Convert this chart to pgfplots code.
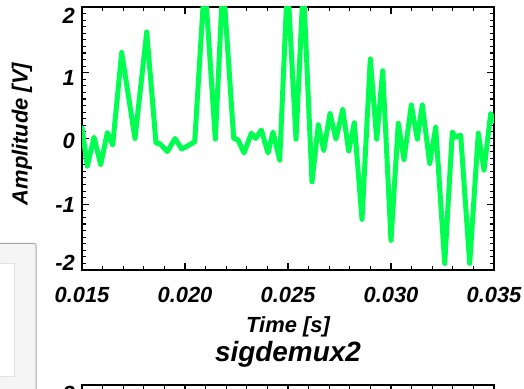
\documentclass[border=0pt]{standalone}
\usepackage{fontspec}
\setmainfont{Liberation Sans}
\usepackage{pgfplots}
\pgfplotsset{compat=1.18}
\definecolor{sig}{RGB}{0,255,80}
\newcommand{\yl}[2]{\raisebox{#1}[\height][\depth]{#2}}
\pgfplotsset{idlaxis/.style={
  scale only axis, width=412bp, height=263bp,
  xmin=0.015, xmax=0.035, ymin=-2, ymax=2,
  xtick={0.015,0.020,0.025,0.030,0.035},
  ytick={-2,-1,0,1,2},
  minor x tick num=4, minor y tick num=9,
  tick align=inside, tick pos=both,
  major tick length=7bp, minor tick length=4bp,
  axis line style={line width=1.6bp},
  tick style={black, line width=1.1bp},
  ticklabel style={font=\fontsize{22}{26}\selectfont\bfseries\itshape, inner sep=0pt},
  xticklabel style={yshift=-17bp},
  yticklabel style={xshift=-7bp},
  yticklabels={\yl{7.5bp}{-2},\yl{-1bp}{-1},\yl{-2.5bp}{0},\yl{-5.5bp}{1},\yl{-9bp}{2}},
  /pgf/number format/assume math mode=true,
  scaled x ticks=false,
}}
\begin{document}
\begin{tikzpicture}
% window element at the lower left of the screenshot
\filldraw[fill=black!4, draw=black!35, line width=1bp, rounded corners=2bp] (-10bp,-10bp) rectangle (36bp,145.5bp);
\filldraw[fill=white, draw=black!12, line width=0.6bp] (-10bp,12.3bp) rectangle (14bp,126bp);
\begin{axis}[idlaxis,
  at={(82bp,119bp)}, anchor=south west,
  xticklabels={0.015,0.020,0.025,0.030,0.035},
  xlabel={Time [s]}, ylabel={Amplitude [V]},
  label style={font=\fontsize{22}{26}\selectfont\bfseries\itshape},
  xlabel style={at={(axis description cs:0.5,-0.2167)}, anchor=center},
  ylabel style={at={(axis description cs:-0.1456,0.517)}, anchor=center},
  title={sigdemux2},
  title style={at={(axis description cs:0.5,-0.342)}, anchor=center, font=\fontsize{28}{32}\selectfont\bfseries\itshape},
]
\addplot[sig, line width=5bp, line join=round, line cap=round] coordinates {
(0.015000,0.16) (0.015257,-0.42) (0.015583,0.02) (0.015908,-0.40) (0.016228,0.09)
(0.016490,-0.10) (0.016927,1.31) (0.017573,0.00) (0.018141,1.62) (0.018592,-0.07)
(0.018786,-0.08) (0.019141,-0.20) (0.019515,0.00) (0.019840,-0.16) (0.020083,-0.12)
(0.020471,-0.05) (0.020956,2.42) (0.021471,-0.01) (0.021845,2.42) (0.022364,0.00)
(0.022573,-0.02) (0.022864,-0.22) (0.023218,0.08) (0.023432,0.00) (0.023704,0.13)
(0.024029,-0.22) (0.024272,0.10) (0.024597,-0.33) (0.024976,2.40) (0.025388,-0.01)
(0.025743,2.35) (0.026165,-0.66) (0.026471,0.21) (0.026733,-0.18) (0.027039,0.38)
(0.027330,-0.01) (0.027655,0.44) (0.027947,-0.19) (0.028218,0.24) (0.028592,-1.23)
(0.028995,1.21) (0.029306,-0.01) (0.029597,1.03) (0.030000,-1.55) (0.030354,0.23)
(0.030631,-0.32) (0.030985,0.51) (0.031277,-0.01) (0.031519,0.51) (0.031879,-0.38)
(0.032170,0.17) (0.032607,-1.90) (0.032976,0.10) (0.033141,0.02) (0.033383,0.05)
(0.033820,-1.90) (0.034238,0.08) (0.034515,-0.48) (0.034840,0.38) (0.035000,0.26)
};
\end{axis}
\begin{axis}[idlaxis,
  at={(82bp,4bp)}, anchor=north west,
  xticklabels={},
  yticklabels={{},{},{},{},\yl{-9bp}{2}},
]
\end{axis}
\pgfresetboundingbox
\path[use as bounding box] (0,0) rectangle (524bp,389bp);
\end{tikzpicture}
\end{document}
